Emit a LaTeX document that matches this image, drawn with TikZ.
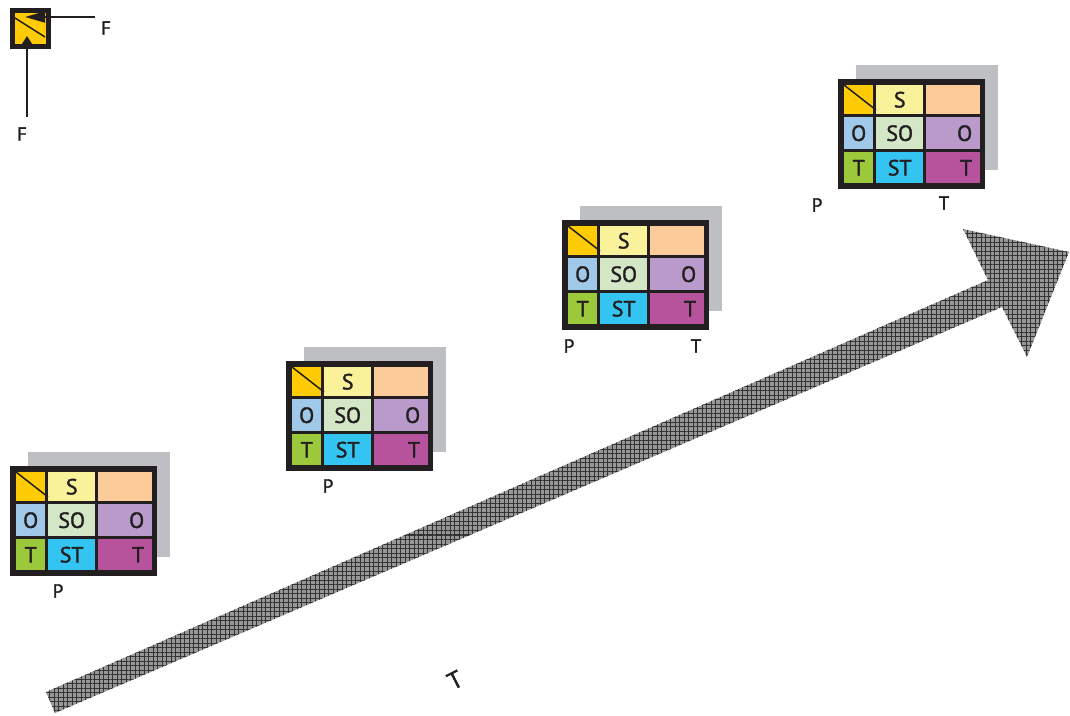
\documentclass[tikz,border=0pt]{standalone}
\usepackage{fontspec}
\setmainfont{PT Sans}
\newfontfamily\heavysans{PT Sans}[FakeBold=1.6]
\usepackage{tikz}
\usetikzlibrary{arrows.meta, patterns.meta}

\definecolor{frameblk}{HTML}{231F20}
\definecolor{gold}{HTML}{FFCB05}
\definecolor{lemon}{HTML}{F9F29B}
\definecolor{peach}{HTML}{FBCB9A}
\definecolor{skyblue}{HTML}{A0C8E8}
\definecolor{mint}{HTML}{D3E7C6}
\definecolor{lavender}{HTML}{B99ACB}
\definecolor{leaf}{HTML}{9CC93B}
\definecolor{cyanish}{HTML}{33C4F1}
\definecolor{plum}{HTML}{B7529D}
\definecolor{shadowgray}{HTML}{BEBFC2}
\definecolor{meshbg}{HTML}{979797}

\begin{document}
\begin{tikzpicture}[x=1pt, y=-1pt,
  cell/.style={inner sep=0pt, anchor=north west, text=frameblk,
               font=\heavysans\fontsize{22}{24}\selectfont},
  narrow/.style={cell, minimum width=29pt},
  mid/.style={cell, minimum width=47pt},
  wide/.style={cell, minimum width=54pt, text width=38pt, align=right},
  lbl/.style={inner sep=0pt, text=frameblk, font=\heavysans\fontsize{19}{21}\selectfont},
  arr/.style={-{Triangle[length=20pt, width=11pt]}, line width=2pt, draw=frameblk},
  arrshort/.style={-{Triangle[length=9pt, width=11pt]}, line width=2pt, draw=frameblk},
]
\useasboundingbox (0,0) rectangle (1070,715);

% big time arrow
\path[preaction={fill=meshbg},
      pattern={Hatch[distance=4.5pt, line width=1pt]}, pattern color=black!80]
  (46,692) -- (988,280) -- (963,229) -- (1069,252)
  -- (1027,357) -- (1002,307) -- (55,713) -- cycle;
\node[lbl, font=\heavysans\fontsize{24}{26}\selectfont, rotate=27] (time) at (455,680) {T};

% the four blocks
\foreach \x/\y/\n in {10/466/1, 286/361/2, 562/220/3, 838/79/4}{
  \fill[shadowgray] (\x+18,\y-14) rectangle ++(142,105);
  \fill[frameblk] (\x,\y) rectangle ++(147,110);
  \node[narrow, fill=gold,  minimum height=29pt] (tl\n) at (\x+6,\y+6) {};
  \node[mid,    fill=lemon, minimum height=29pt] (s\n)  at (\x+38,\y+6) {S};
  \node[wide,   fill=peach, minimum height=29pt] (pe\n) at (\x+88,\y+6) {};
  \node[narrow, fill=skyblue,  minimum height=32pt] (o\n)  at (\x+6,\y+38) {O};
  \node[mid,    fill=mint,     minimum height=32pt] (so\n) at (\x+38,\y+38) {SO};
  \node[wide,   fill=lavender, minimum height=32pt] (or\n) at (\x+88,\y+38) {O};
  \node[narrow, fill=leaf,    minimum height=31pt] (t\n)  at (\x+6,\y+73) {T};
  \node[mid,    fill=cyanish, minimum height=31pt] (st\n) at (\x+38,\y+73) {ST};
  \node[wide,   fill=plum,    minimum height=31pt] (tr\n) at (\x+88,\y+73) {T};
  \draw[frameblk, line width=1.5pt] (tl\n.north west) -- (\x+38,\y+31);
}

\node[lbl] (p1) at (58,591) {P};
\node[lbl] (p2) at (328,486) {P};
\node[lbl] (p3) at (569,346) {P};
\node[lbl] (t3) at (696,346) {T};
\node[lbl] (p4) at (817,205) {P};
\node[lbl] (t4) at (944,203) {T};

% legend
\node[draw=frameblk, line width=5pt, fill=gold, minimum size=36pt,
      inner sep=0pt] (icon) at (30,28.5) {};
\draw[frameblk, line width=1.5pt] (15,18) -- (45,37);
\coordinate (fr) at (95,17);
\coordinate (frtip) at (25,17);
\coordinate (fb) at (27,117);
\coordinate (fbtip) at (27,36);
\draw[arr] (fr) -- (frtip);
\draw[arrshort] (fb) -- (fbtip);
\node[lbl] (frlbl) at (106,28) {F};
\node[lbl] (fblbl) at (22,134) {F};
\end{tikzpicture}
\end{document}
